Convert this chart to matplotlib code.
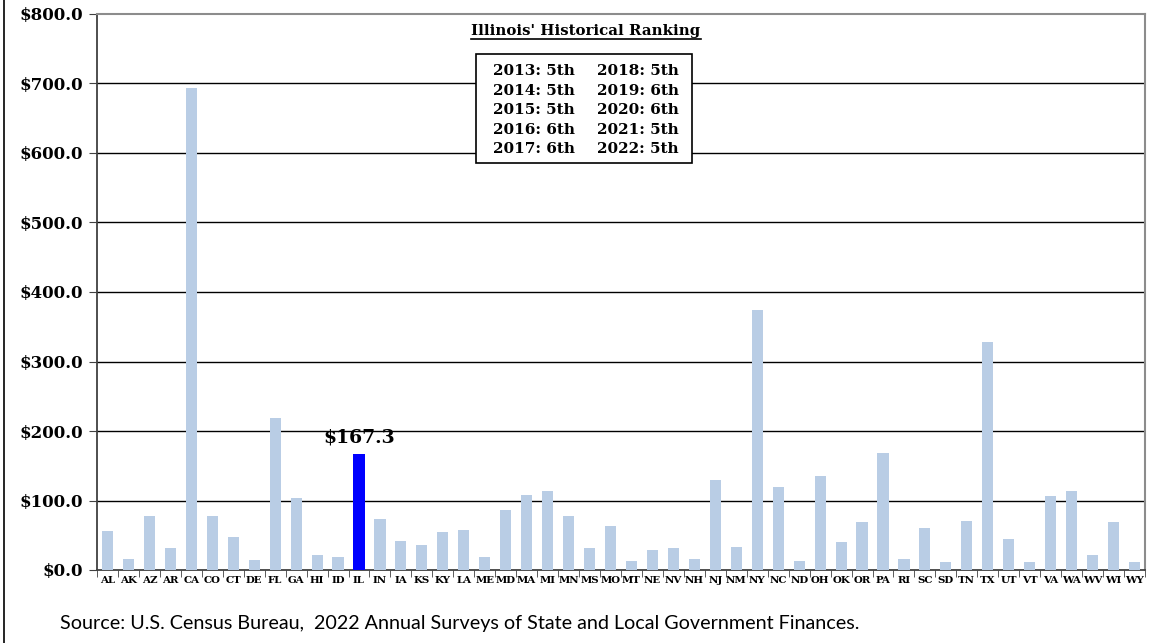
import matplotlib
matplotlib.use("Agg")
import matplotlib.pyplot as plt
from matplotlib.lines import Line2D
from matplotlib.ticker import FixedLocator, FuncFormatter

states = ["AL","AK","AZ","AR","CA","CO","CT","DE","FL","GA","HI","ID","IL","IN","IA","KS","KY","LA",
          "ME","MD","MA","MI","MN","MS","MO","MT","NE","NV","NH","NJ","NM","NY","NC","ND","OH",
          "OK","OR","PA","RI","SC","SD","TN","TX","UT","VT","VA","WA","WV","WI","WY"]
values = [56, 16, 78, 32, 693, 77, 47, 15, 218, 104, 22, 19, 167.3, 73, 42, 36, 54, 58,
          18, 86, 108, 113, 77, 32, 63, 13, 29, 31, 16, 129, 33, 374, 120, 13, 135,
          41, 69, 168, 16, 61, 11, 71, 328, 45, 11, 107, 113, 22, 69, 11]
highlight = "IL"
highlight_label = "$167.3"
yticks = [0, 100, 200, 300, 400, 500, 600, 700, 800]
ranking_title = "Illinois' Historical Ranking"
ranking_left = ["2013: 5th", "2014: 5th", "2015: 5th", "2016: 6th", "2017: 6th"]
ranking_right = ["2018: 5th", "2019: 6th", "2020: 6th", "2021: 5th", "2022: 5th"]
source = "Source: U.S. Census Bureau,  2022 Annual Surveys of State and Local Government Finances."

W, H = 1151, 643
fig = plt.figure(figsize=(W/100, H/100), dpi=100)
ax = fig.add_axes([97/W, 1-570/H, (1145-97)/W, (570-14)/H])

serif = "DejaVu Serif"
colors = ["#0000FF" if s == highlight else "#B9CDE5" for s in states]
x = list(range(len(states)))
ax.bar(x, values, width=0.53, color=colors, zorder=3)
ax.set_xlim(-0.5, len(states)-0.5)
ax.set_ylim(0, 800)

for y in yticks[1:-1]:
    ax.axhline(y, color="black", lw=1.0, zorder=1)

ax.set_yticks(yticks)
ax.yaxis.set_major_formatter(FuncFormatter(lambda v, p: f"${v:,.1f}"))
for lab in ax.get_yticklabels():
    lab.set_fontfamily(serif); lab.set_fontweight("bold"); lab.set_fontsize(12)
ax.tick_params(axis="y", direction="out", length=6, color="#404040", pad=4)

ax.set_xticks(x)
ax.set_xticklabels(states, fontfamily=serif, fontweight="bold", fontsize=7.4)
ax.tick_params(axis="x", which="major", length=0, pad=4)
ax.xaxis.set_minor_locator(FixedLocator([i+0.5 for i in range(-1, len(states))]))
ax.tick_params(axis="x", which="minor", direction="out", length=5, color="#404040")

ax.spines["left"].set_color("#404040"); ax.spines["left"].set_linewidth(1.3)
ax.spines["bottom"].set_color("#404040"); ax.spines["bottom"].set_linewidth(1.3)
ax.spines["top"].set_color("#8c8c8c"); ax.spines["top"].set_linewidth(1.5)
ax.spines["right"].set_color("#8c8c8c"); ax.spines["right"].set_linewidth(1.5)

hi = states.index(highlight)
ax.annotate(highlight_label, (hi, values[hi]), xytext=(0, 5), textcoords="offset points",
            ha="center", va="bottom", fontfamily=serif, fontweight="bold", fontsize=13.5, zorder=5)

# ranking title (underlined)
t = fig.text(586/W, 1-31/H, ranking_title, ha="center", va="center",
             fontfamily=serif, fontweight="bold", fontsize=10.8)

# ranking box
box = plt.Rectangle((476/W, 1-163/H), (692-476)/W, (163-54)/H, transform=fig.transFigure,
                    facecolor="white", edgecolor="black", lw=1.2, zorder=4)
fig.add_artist(box)
for i, (l, r) in enumerate(zip(ranking_left, ranking_right)):
    yy = 1-(71+i*19.6)/H
    fig.text(493/W, yy, l, ha="left", va="center", fontfamily=serif, fontweight="bold", fontsize=11, zorder=5)
    fig.text(597/W, yy, r, ha="left", va="center", fontfamily=serif, fontweight="bold", fontsize=11, zorder=5)

fig.text(60/W, 1-624/H, source, ha="left", va="center", fontfamily="Lato", fontsize=14.2)

# left border line
fig.add_artist(Line2D([3.5/W, 3.5/W], [0, 1], transform=fig.transFigure, color="black", lw=1.2))

fig.canvas.draw()
bb = t.get_window_extent()
fig.add_artist(Line2D([bb.x0/W, bb.x1/W], [(bb.y0-1)/H, (bb.y0-1)/H], transform=fig.transFigure,
                      color="black", lw=1.2))

fig.savefig("out.png", dpi=100)
